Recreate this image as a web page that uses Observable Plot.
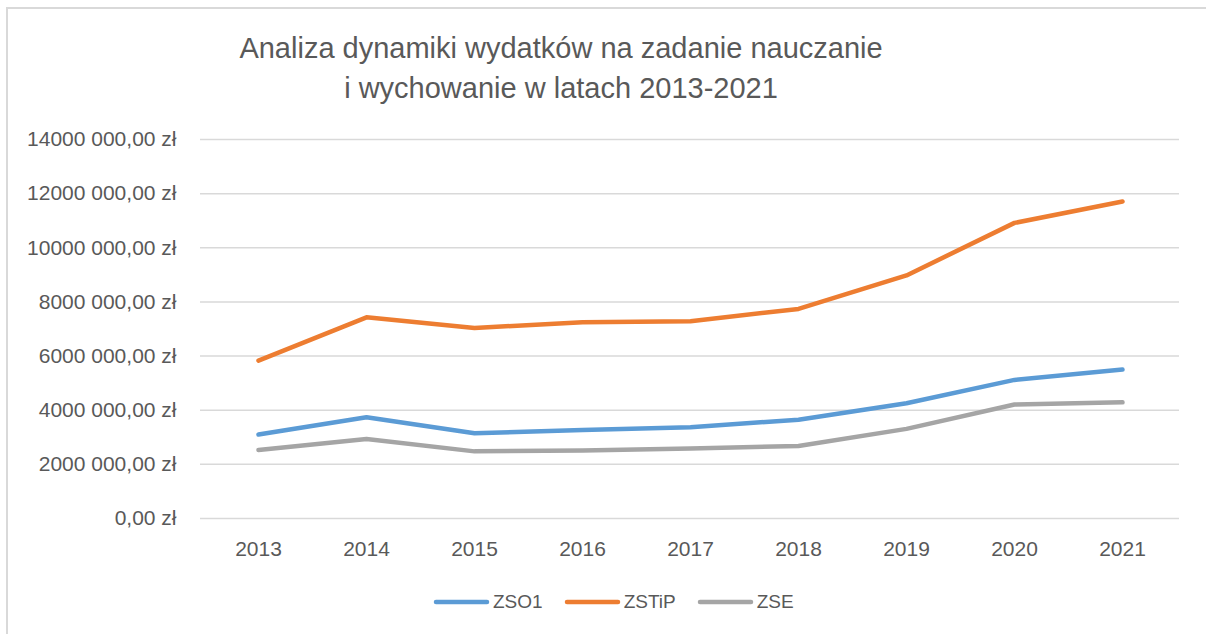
<!DOCTYPE html>
<html>
<head>
<meta charset="utf-8">
<script src="https://cdn.jsdelivr.net/npm/d3@7"></script>
<script src="https://cdn.jsdelivr.net/npm/@observablehq/plot@0.6"></script>
<style>
  html, body { margin: 0; padding: 0; background: #fff; }
  body { width: 1206px; height: 634px; overflow: hidden; position: relative; font-family: "Liberation Sans", Arial, sans-serif; }
  #frame { position: absolute; left: 6px; top: 7px; width: 1400px; height: 800px; border-left: 2px solid #d9d9d9; border-top: 2px solid #d9d9d9; box-sizing: border-box; }
  #title { position: absolute; left: 561px; top: 28px; transform: translateX(-50%); text-align: center; white-space: nowrap; font-size: 29px; line-height: 40px; color: #595959; }
  #chart { position: absolute; left: 0; top: 0; }
  #legend { position: absolute; left: 433px; top: 589px; display: flex; align-items: center; font-size: 19px; color: #595959; height: 25px; }
  .item { display: flex; align-items: center; margin-right: 21px; }
  .item svg { margin-right: 3px; }
</style>
</head>
<body>
<div id="frame"></div>
<div id="chart"></div>
<div id="title">Analiza dynamiki wydatków na zadanie nauczanie<br>i wychowanie w latach 2013-2021</div>
<div id="legend"></div>
<script>
const years = ["2013","2014","2015","2016","2017","2018","2019","2020","2021"];
const seriesNames = ["ZSO1","ZSTiP","ZSE"];
const seriesColors = ["#5B9BD5","#ED7D31","#A5A5A5"];
const zso1  = [3100000, 3740000, 3150000, 3270000, 3370000, 3650000, 4260000, 5120000, 5500000];
const zstip = [5830000, 7430000, 7040000, 7250000, 7290000, 7740000, 8980000, 10920000, 11710000];
const zse   = [2530000, 2940000, 2480000, 2510000, 2590000, 2680000, 3310000, 4210000, 4290000];
const yTicks = [0, 2000000, 4000000, 6000000, 8000000, 10000000, 12000000, 14000000];
const yTickLabels = ["0,00 zł","2000 000,00 zł","4000 000,00 zł","6000 000,00 zł","8000 000,00 zł","10000 000,00 zł","12000 000,00 zł","14000 000,00 zł"];

const seriesValues = [zso1, zstip, zse];
const data = [];
seriesNames.forEach((name, s) => {
  years.forEach((yr, i) => data.push({series: name, year: yr, value: seriesValues[s][i]}));
});
const labelOf = new Map(yTicks.map((t, i) => [t, yTickLabels[i]]));

const chart = Plot.plot({
  width: 1206,
  height: 580,
  marginTop: 139,
  marginBottom: 62,
  marginLeft: 200,
  marginRight: 27,
  style: {fontFamily: '"Liberation Sans", Arial, sans-serif', background: "transparent", color: "#595959"},
  x: {type: "point", domain: years, padding: 0.5, label: null},
  y: {domain: [0, 14000000], label: null},
  color: {domain: seriesNames, range: seriesColors},
  marks: [
    Plot.gridY(yTicks, {stroke: "#d9d9d9", strokeOpacity: 1, strokeWidth: 1.5}),
    Plot.axisY(yTicks, {tickSize: 0, tickPadding: 24, tickFormat: d => labelOf.get(d), fontSize: 21, fill: "#595959", label: null}),
    Plot.axisX({tickSize: 0, tickPadding: 23, fontSize: 21, fill: "#595959", label: null}),
    Plot.line(data, {x: "year", y: "value", z: "series", stroke: "series", strokeWidth: 4.5, strokeLinecap: "round", strokeLinejoin: "round"})
  ]
});
document.getElementById("chart").appendChild(chart);

const legend = document.getElementById("legend");
seriesNames.forEach((name, i) => {
  const item = document.createElement("div");
  item.className = "item";
  item.innerHTML = `<svg width="57" height="8"><line x1="3" y1="4" x2="54" y2="4" stroke="${seriesColors[i]}" stroke-width="4.5" stroke-linecap="round"/></svg><span>${name}</span>`;
  legend.appendChild(item);
});
</script>
</body>
</html>
